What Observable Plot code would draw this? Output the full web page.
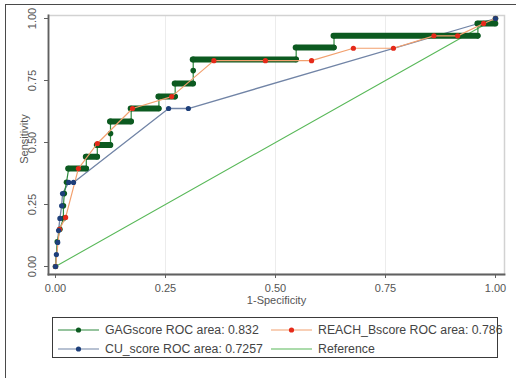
<!DOCTYPE html>
<html>
<head>
<meta charset="utf-8">
<script src="https://cdn.jsdelivr.net/npm/d3@7"></script>
<script src="https://cdn.jsdelivr.net/npm/@observablehq/plot@0.6"></script>
<style>
  html, body { margin: 0; padding: 0; background: #fff; }
  body { position: relative; width: 516px; height: 378px; overflow: hidden; font-family: "Liberation Sans", Arial, sans-serif; }
  #chart { position: absolute; left: 0; top: 0; z-index: 1; }
  #border { position: absolute; left: 5px; top: 4px; width: 600px; height: 500px; border-top: 1.5px solid #4a4a4a; border-left: 1.5px solid #4a4a4a; z-index: 3; pointer-events: none; }
  #legend { position: absolute; left: 52px; top: 317px; width: 446px; height: 41px; border: 1.5px solid #3a3a3a; box-sizing: border-box; overflow: visible; z-index: 2; }
  .item { position: absolute; height: 16px; display: flex; align-items: center; white-space: nowrap; font-size: 12.3px; color: #444; }
  .item span { margin-left: 6px; }
</style>
</head>
<body>
<div id="chart"></div>
<div id="legend"></div>
<div id="border"></div>
<script>
// ---- data ----
const seriesNames = ["GAGscore ROC area: 0.832", "REACH_Bscore ROC area: 0.786", "CU_score ROC area: 0.7257", "Reference"];

const gagFpr = [0, 0.004, 0.01, 0.018, 0.018, 0.02, 0.025, 0.03, 0.07, 0.07, 0.095, 0.095, 0.125, 0.125, 0.125, 0.172, 0.172, 0.235, 0.235, 0.272, 0.272, 0.313, 0.313, 0.313, 0.547, 0.547, 0.633, 0.633, 0.96, 0.96, 1, 1];
const gagTpr = [0, 0.1, 0.15, 0.194, 0.245, 0.294, 0.34, 0.395, 0.395, 0.443, 0.443, 0.49, 0.49, 0.536, 0.585, 0.585, 0.637, 0.637, 0.685, 0.685, 0.738, 0.738, 0.79, 0.835, 0.835, 0.883, 0.883, 0.93, 0.93, 0.98, 0.98, 1];

const reachFpr = [0, 0.009, 0.023, 0.052, 0.095, 0.175, 0.264, 0.36, 0.477, 0.582, 0.677, 0.768, 0.86, 0.914, 0.973, 1];
const reachTpr = [0, 0.15, 0.198, 0.395, 0.496, 0.637, 0.685, 0.83, 0.83, 0.83, 0.88, 0.88, 0.93, 0.93, 0.98, 1];

const cuFpr = [0, 0.002, 0.005, 0.007, 0.01, 0.014, 0.016, 0.03, 0.041, 0.257, 0.302, 1];
const cuTpr = [0, 0.048, 0.097, 0.145, 0.194, 0.245, 0.294, 0.339, 0.339, 0.637, 0.637, 1];

const refFpr = [0, 1];
const refTpr = [0, 1];

const xTicks = [0, 0.25, 0.5, 0.75, 1];
const yTicks = [0, 0.25, 0.5, 0.75, 1];
const xLabel = "1-Specificity";
const yLabel = "Sensitivity";

// ---- styles ----
const colors = {
  gagDot: "#0c5a20", gagLine: "#2f8a3f",
  reachDot: "#e52a1a", reachLine: "#f2a06e",
  cuDot: "#1d3f7a", cuLine: "#7184a6",
  ref: "#58b858"
};

const pts = (xs, ys) => xs.map((x, i) => ({x, y: ys[i]}));
const gag = pts(gagFpr, gagTpr);
const reach = pts(reachFpr, reachTpr);
const cu = pts(cuFpr, cuTpr);
const ref = pts(refFpr, refTpr);
// horizontal runs of the GAGscore curve (dense markers merge into bars)
const gagBars = [];
for (let i = 0; i < gag.length - 1; i++) {
  if (gag[i].y === gag[i + 1].y && gag[i].x !== gag[i + 1].x) gagBars.push({y: gag[i].y, x1: gag[i].x, x2: gag[i + 1].x});
}
const fmt = d3.format(".2f");

const chart = Plot.plot({
  width: 516,
  height: 312,
  marginLeft: 48,
  marginRight: 12,
  marginTop: 15,
  marginBottom: 38,
  x: {domain: [0, 1], insetLeft: 7, insetRight: 9},
  y: {domain: [0, 1], insetTop: 3, insetBottom: 8},
  style: {fontFamily: "Liberation Sans, Arial, sans-serif", fontSize: "11px", color: "#555", background: "white"},
  marks: [
    Plot.gridX(xTicks.slice(1, -1), {stroke: "#ececec", strokeOpacity: 1}),
    Plot.frame({stroke: "#d2d2d2", strokeWidth: 1.5}),
    Plot.frame({anchor: "left", stroke: "#606060", strokeWidth: 1.8}),
    Plot.frame({anchor: "bottom", stroke: "#606060", strokeWidth: 1.8}),
    Plot.axisX({ticks: xTicks, tickFormat: fmt, tickSize: 4, tickPadding: 6, label: null, stroke: "#606060"}),
    Plot.axisY({ticks: yTicks, tickFormat: () => "", tickSize: 4, label: null, stroke: "#606060"}),
    Plot.text(yTicks, {y: d => d, text: d => fmt(d), frameAnchor: "left", textAnchor: "middle", dx: -16, rotate: -90, fontSize: 11, fill: "#555"}),
    Plot.text([xLabel], {text: d => d, frameAnchor: "bottom", textAnchor: "middle", dy: 29, fontSize: 11, fill: "#555"}),
    Plot.text([yLabel], {text: d => d, frameAnchor: "left", textAnchor: "middle", dx: -24, dy: -6, rotate: -90, fontSize: 11, fill: "#555"}),
    // reference
    Plot.line(ref, {x: "x", y: "y", stroke: colors.ref, strokeWidth: 1.1}),
    // CU_score line
    Plot.line(cu, {x: "x", y: "y", stroke: colors.cuLine, strokeWidth: 1.3}),
    // GAGscore
    Plot.line(gag, {x: "x", y: "y", stroke: colors.gagLine, strokeWidth: 1.2}),
    Plot.ruleY(gagBars, {y: "y", x1: "x1", x2: "x2", stroke: colors.gagDot, strokeWidth: 6, strokeLinecap: "round"}),
    Plot.dot(gag, {x: "x", y: "y", r: 2.8, fill: colors.gagDot}),
    // REACH
    Plot.line(reach, {x: "x", y: "y", stroke: colors.reachLine, strokeWidth: 1.2}),
    Plot.dot(reach, {x: "x", y: "y", r: 2.6, fill: colors.reachDot}),
    // CU dots
    Plot.dot(cu, {x: "x", y: "y", r: 2.6, fill: colors.cuDot})
  ]
});
document.getElementById("chart").appendChild(chart);

// ---- legend ----
const legendItems = [
  {name: seriesNames[0], line: colors.gagLine, dot: colors.gagDot, left: 5, top: 4},
  {name: seriesNames[1], line: colors.reachLine, dot: colors.reachDot, left: 218, top: 4},
  {name: seriesNames[2], line: colors.cuLine, dot: colors.cuDot, left: 5, top: 23},
  {name: seriesNames[3], line: colors.ref, dot: null, left: 218, top: 23}
];
const legend = document.getElementById("legend");
for (const it of legendItems) {
  const div = document.createElement("div");
  div.className = "item";
  div.style.left = it.left + "px";
  div.style.top = it.top + "px";
  const dot = it.dot ? `<circle cx="20.5" cy="8" r="2.6" fill="${it.dot}"/>` : "";
  div.innerHTML = `<svg width="41" height="16"><line x1="0" x2="41" y1="8" y2="8" stroke="${it.line}" stroke-width="1.2"/>${dot}</svg><span>${it.name}</span>`;
  legend.appendChild(div);
}
</script>
</body>
</html>
